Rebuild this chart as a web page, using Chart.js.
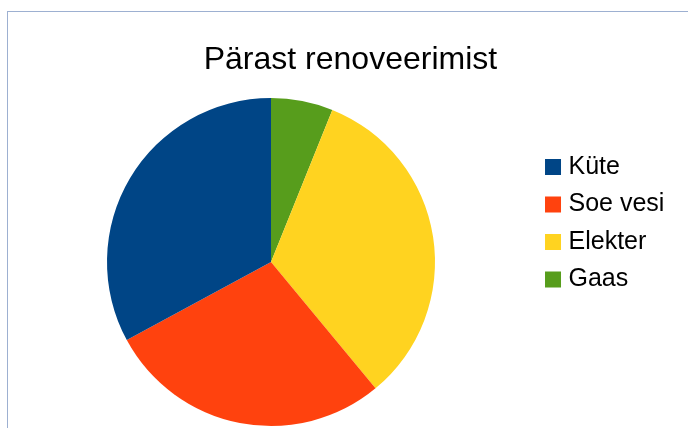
<!DOCTYPE html>
<html>
<head>
<meta charset="utf-8">
<script src="https://cdn.jsdelivr.net/npm/chart.js@4/dist/chart.umd.min.js"></script>
<style>
  html, body { margin: 0; padding: 0; background: #fff; }
  #wrap { position: relative; width: 688px; height: 428px; overflow: hidden; }
  #frame { position: absolute; left: 7px; top: 11px; width: 700px; height: 430px;
           border-top: 1px solid #9db0d1; border-left: 1px solid #9db0d1; }
  canvas { position: absolute; left: 0; top: 0; }
</style>
</head>
<body>
<div id="wrap">
  <div id="frame"></div>
  <canvas id="c" width="688" height="428"></canvas>
</div>
<script>
const chartTitle = 'Pärast renoveerimist';
const categories = ['Küte', 'Soe vesi', 'Elekter', 'Gaas'];
const values = [32.9, 28.1, 32.9, 6.1];
const sliceColors = ['#004586', '#ff420e', '#ffd320', '#579d1c'];

// LibreOffice draws slices counter-clockwise from the top; Chart.js draws clockwise,
// so the dataset is fed in reverse order and the legend is reversed back.
const drawLabels = categories.slice().reverse();
const drawValues = values.slice().reverse();
const drawColors = sliceColors.slice().reverse();

const FONT = "'Liberation Sans', Arial, sans-serif";

const nudgeTitle = {
  id: 'nudgeTitle',
  afterLayout(chart) {
    const t = chart.titleBlock;
    if (t) { t.left += 11; t.right += 11; }
  }
};

const baseLabels = Chart.overrides.doughnut.plugins.legend.labels.generateLabels;

new Chart(document.getElementById('c'), {
  type: 'pie',
  data: {
    labels: drawLabels,
    datasets: [{
      data: drawValues,
      backgroundColor: drawColors,
      borderWidth: 0,
      hoverOffset: 0
    }]
  },
  plugins: [nudgeTitle],
  options: {
    responsive: false,
    devicePixelRatio: 1,
    animation: false,
    rotation: 0,
    layout: { padding: { top: 0, left: 4.5, right: 13.6, bottom: 2 } },
    plugins: {
      tooltip: { enabled: false },
      title: {
        display: true,
        text: chartTitle,
        color: '#000',
        font: { family: FONT, size: 32, weight: 'normal', lineHeight: 1.2 },
        padding: { top: 41, bottom: 18.6 }
      },
      legend: {
        display: true,
        position: 'right',
        align: 'start',
        fullSize: false,
        reverse: true,
        title: { display: true, text: '', font: { size: 10, lineHeight: 1.2 }, padding: { top: 32, bottom: 0 } },
        labels: {
          boxWidth: 6,
          boxHeight: 6,
          padding: 12.5,
          color: '#000',
          font: { family: FONT, size: 25, weight: 'normal' },
          generateLabels(chart) {
            const items = baseLabels(chart);
            items.forEach(it => { it.lineWidth = 10; it.strokeStyle = it.fillStyle; it.lineJoin = 'miter'; });
            return items;
          }
        }
      }
    }
  }
});
</script>
</body>
</html>
